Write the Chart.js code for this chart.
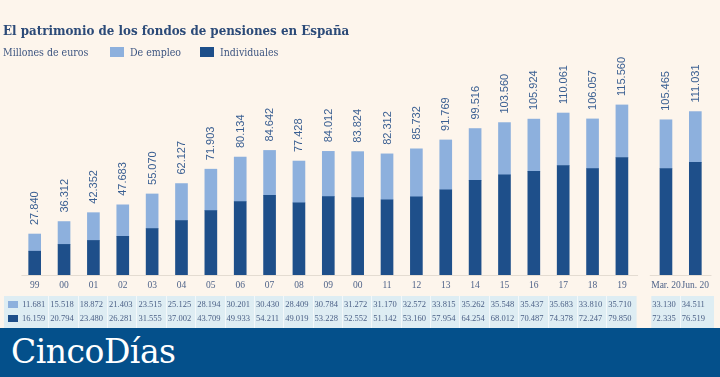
<!DOCTYPE html>
<html>
<head>
<meta charset="utf-8">
<script src="https://cdn.jsdelivr.net/npm/chart.js@4.4.1/dist/chart.umd.min.js"></script>
<style>
  html, body { margin: 0; padding: 0; background: #fdf5ec; }
  #wrap { position: relative; width: 720px; height: 377px; overflow: hidden; background: #fdf5ec; }
  #c { position: absolute; left: 0; top: 0; }
  #title { position: absolute; left: 3px; top: 23px; font: bold 13.2px "DejaVu Serif Condensed", "DejaVu Serif", serif; color: #2b4a78; white-space: nowrap; }
  #sub { position: absolute; left: 3px; top: 46px; font: 10.5px "DejaVu Serif Condensed", "DejaVu Serif", serif; color: #3d5580; white-space: nowrap; }
  .lg { position: absolute; top: 46px; font: 10.5px "DejaVu Serif Condensed", "DejaVu Serif", serif; color: #3d5580; white-space: nowrap; }
  .sw { position: absolute; top: 47px; width: 14px; height: 10px; }
  #footer { position: absolute; left: 0; top: 328px; width: 720px; height: 49px; background: #04508b; }
  #logo { position: absolute; left: 11px; top: 4px; font: 33px "DejaVu Serif", serif; color: #fff; letter-spacing: -0.5px; }
</style>
</head>
<body>
<div id="wrap">
  <canvas id="c" width="720" height="377"></canvas>
  <div id="title">El patrimonio de los fondos de pensiones en España</div>
  <div id="sub">Millones de euros</div>
  <div class="sw" style="left:110px;background:#8db0dd"></div>
  <div class="lg" style="left:130px">De empleo</div>
  <div class="sw" style="left:200px;background:#1e4f8a"></div>
  <div class="lg" style="left:220px">Individuales</div>
  <div id="footer"><div id="logo">CincoDías</div></div>
</div>
<script>
const categories = ['99','00','01','02','03','04','05','06','07','08','09','00','11','12','13','14','15','16','17','18','19','Mar. 20','Jun. 20'];
const deEmpleo = [11.681, 15.518, 18.872, 21.403, 23.515, 25.125, 28.194, 30.201, 30.430, 28.409, 30.784, 31.272, 31.170, 32.572, 33.815, 35.262, 35.548, 35.437, 35.683, 33.810, 35.710, 33.130, 34.511];
const individuales = [16.159, 20.794, 23.480, 26.281, 31.555, 37.002, 43.709, 49.933, 54.211, 49.019, 53.228, 52.552, 51.142, 53.160, 57.954, 64.254, 68.012, 70.487, 74.378, 72.247, 79.850, 72.335, 76.519];
const totals = [27.840, 36.312, 42.352, 47.683, 55.070, 62.127, 71.903, 80.134, 84.642, 77.428, 84.012, 83.824, 82.312, 85.732, 91.769, 99.516, 103.560, 105.924, 110.061, 106.057, 115.560, 105.465, 111.031];
const annualCount = 21; // years 99..19, then the 2020 quarters after a gap

const GAP = 0.5;
const xs = categories.map((_, i) => i < annualCount ? i : i + GAP);

const LIGHT = '#8db0dd', DARK = '#1e4f8a';

const overlay = {
  id: 'overlay',
  beforeDatasetsDraw(chart) {
    const ctx = chart.ctx, x = chart.scales.x;
    const step = x.getPixelForValue(1) - x.getPixelForValue(0);
    ctx.save();
    // table band
    const top = 296, bot = 328;
    const aEnd = x.getPixelForValue(annualCount - 1) + step / 2;
    const qStart = x.getPixelForValue(xs[annualCount]) - step / 2;
    const qEnd = x.getPixelForValue(xs[xs.length - 1]) + step / 2 + 4;
    ctx.fillStyle = '#deedf3';
    ctx.fillRect(4, top, aEnd - 4, bot - top);
    ctx.fillRect(qStart, top, qEnd - qStart, bot - top);
    ctx.fillStyle = '#f3f8fa';
    xs.forEach((v, i) => {
      if (i === 0 || i === annualCount) return;
      const px = Math.round(x.getPixelForValue(v) - step / 2);
      ctx.fillRect(px - 1, top, 1, bot - top);
    });
    // baselines
    ctx.strokeStyle = '#e4dcd2';
    ctx.lineWidth = 1;
    ctx.beginPath();
    ctx.moveTo(x.getPixelForValue(-0.45), 275.5);
    ctx.lineTo(x.getPixelForValue(annualCount - 1 + 0.55), 275.5);
    ctx.moveTo(x.getPixelForValue(xs[annualCount] - 0.55), 275.5);
    ctx.lineTo(x.getPixelForValue(xs[xs.length - 1] + 0.55), 275.5);
    ctx.stroke();
    ctx.restore();
  },
  afterDatasetsDraw(chart) {
    const ctx = chart.ctx, x = chart.scales.x;
    const topMeta = chart.getDatasetMeta(1);
    ctx.save();
    // value labels
    ctx.fillStyle = '#3a5f92';
    ctx.font = '11px "Liberation Sans", Arial, sans-serif';
    ctx.textAlign = 'left';
    ctx.textBaseline = 'middle';
    topMeta.data.forEach((bar, i) => {
      ctx.save();
      ctx.translate(bar.x + 0.5, bar.y - 9);
      ctx.rotate(-Math.PI / 2);
      ctx.fillText(totals[i].toFixed(3), 0, 0);
      ctx.restore();
    });
    // x labels
    ctx.fillStyle = '#4f6389';
    ctx.font = '9.5px "Liberation Serif", serif';
    ctx.textAlign = 'center';
    xs.forEach((v, i) => ctx.fillText(categories[i], x.getPixelForValue(v), 285));
    // table rows
    ctx.font = '8.5px "Liberation Serif", serif';
    ctx.fillStyle = '#4a5f85';
    xs.forEach((v, i) => {
      const px = x.getPixelForValue(v) - 2 + (i === 0 ? 1 : 0);
      ctx.fillText(deEmpleo[i].toFixed(3), px, 305);
      ctx.fillText(individuales[i].toFixed(3), px, 319);
    });
    ctx.fillStyle = LIGHT; ctx.fillRect(8, 301, 10, 7);
    ctx.fillStyle = DARK; ctx.fillRect(8, 315, 10, 7);
    ctx.restore();
  }
};

new Chart(document.getElementById('c'), {
  type: 'bar',
  data: {
    datasets: [
      { label: 'Individuales', data: xs.map((v, i) => ({ x: v, y: individuales[i] })), backgroundColor: DARK, barThickness: 12 },
      { label: 'De empleo', data: xs.map((v, i) => ({ x: v, y: deEmpleo[i] })), backgroundColor: LIGHT, barThickness: 12 }
    ]
  },
  options: {
    responsive: false,
    animation: false,
    devicePixelRatio: 1,
    layout: { padding: { top: 70, bottom: 102, left: 20, right: 10 } },
    plugins: { legend: { display: false }, tooltip: { enabled: false } },
    scales: {
      x: { type: 'linear', min: -0.5, max: xs[xs.length - 1] + 0.5, offset: false, stacked: true, display: false },
      y: { min: 0, max: 139.3, stacked: true, display: false }
    }
  },
  plugins: [overlay]
});
</script>
</body>
</html>
